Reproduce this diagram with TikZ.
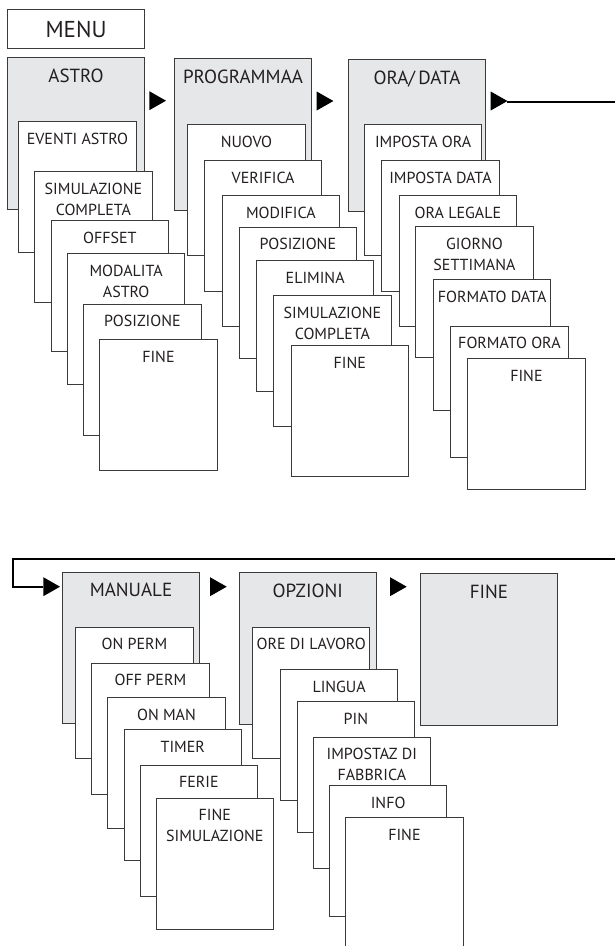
\documentclass[tikz,border=0pt]{standalone}
\usepackage{fontspec}
\setmainfont{PT Sans}
\definecolor{gfill}{HTML}{E6E7E8}
\definecolor{ink}{HTML}{231F20}
\definecolor{edge}{HTML}{3A3A3A}
\tikzset{
  box/.style={draw=edge, line width=1pt, fill=white, inner sep=0pt, anchor=north west, minimum width=117.3pt, minimum height=131pt},
  gbox/.style={draw=edge, line width=1pt, fill=gfill, inner sep=0pt, anchor=north west, minimum width=137pt, minimum height=151.5pt},
  menubox/.style={draw=edge, line width=1pt, fill=white, inner sep=0pt, anchor=north west, minimum width=137pt, minimum height=39pt},
  lbl/.style={anchor=base, inner sep=0pt, align=center, text=ink, font=\fontsize{16}{21}\selectfont},
  glbl/.style={anchor=base, inner sep=0pt, text=ink, font=\fontsize{19}{23}\selectfont},
  mlbl/.style={anchor=base, inner sep=0pt, text=ink, font=\fontsize{23}{27}\selectfont},
  tri/.style={fill=black},
  conn/.style={draw=black, line width=2pt},
}
% one-line sub box
\newcommand\mysub[4]{%
  \node[box] (#1) at (#2,#3) {};
  \node[lbl] (#1-t) at ([yshift=-23pt]#1.north) {#4};
}
% two-line sub box (base anchor = last line)
\newcommand\mysubb[4]{%
  \node[box] (#1) at (#2,#3) {};
  \node[lbl] (#1-t) at ([yshift=-44pt]#1.north) {#4};
}
\newcommand\mygray[4]{%
  \node[gbox] (#1) at (#2,#3) {};
  \node[glbl] (#1-t) at ([yshift=-25pt]#1.north) {#4};
}
\newcommand\mytri[2]{%
  \fill[tri] (#1,#2) ++(0,-9.5) -- ++(16.7,9.5) -- ++(-16.7,9.5) -- cycle;
}
\begin{document}
\begin{tikzpicture}[x=1pt,y=-1pt]
\clip (0,0) rectangle (615,946);
% MENU
\node[menubox] (menu) at (7,9) {};
\node[mlbl] (menu-t) at ([yshift=-28.3pt]menu.north) {MENU};
% ASTRO column
\mygray{astro}{7}{57.3}{ASTRO}
\mysub{a1}{18.3}{121}{EVENTI ASTRO}
\mysubb{a2}{34.3}{171}{SIMULAZIONE\\COMPLETA}
\mysub{a3}{50.7}{220}{OFFSET}
\mysubb{a4}{67}{253.3}{MODALITA\\ASTRO}
\mysub{a5}{83.3}{303.7}{POSIZIONE}
\mysub{a6}{99.3}{339.3}{FINE}
% PROGRAMMAA column
\mygray{prog}{174}{58}{PROGRAMMAA}
\mysub{p1}{187.3}{124}{NUOVO}
\mysub{p2}{204}{160}{VERIFICA}
\mysub{p3}{221.7}{195}{MODIFICA}
\mysub{p4}{238.7}{226.7}{POSIZIONE}
\mysub{p5}{256}{260}{ELIMINA}
\mysubb{p6}{273.3}{295}{SIMULAZIONE\\COMPLETA}
\mysub{p7}{290.7}{345.3}{FINE}
% ORA/DATA column
\mygray{ora}{348}{59}{ORA/\,DATA}
\mysub{o1}{364}{124}{IMPOSTA ORA}
\mysub{o2}{381.3}{160}{IMPOSTA DATA}
\mysub{o3}{398.7}{195}{ORA LEGALE}
\mysubb{o4}{415.3}{226}{GIORNO\\SETTIMANA}
\mysub{o5}{433}{279.3}{FORMATO DATA}
\mysub{o6}{450.3}{325.7}{FORMATO ORA}
\mysub{o7}{467.3}{358.3}{FINE}
% MANUALE column
\mygray{man}{62}{571.7}{MANUALE}
\mysub{m1}{75.3}{626.7}{ON PERM}
\mysub{m2}{91.3}{662.7}{OFF PERM}
\mysub{m3}{107.3}{697.3}{ON MAN}
\mysub{m4}{123.7}{729}{TIMER}
\mysub{m5}{139.7}{764.7}{FERIE}
\mysubb{m6}{155.7}{797.7}{FINE\\SIMULAZIONE}
% OPZIONI column
\mygray{opz}{238.7}{572.3}{OPZIONI}
\mysub{z1}{252}{626.7}{ORE DI LAVORO}
\mysub{z2}{280}{669.3}{LINGUA}
\mysub{z3}{296.7}{701}{PIN}
\mysubb{z4}{312.7}{736.7}{IMPOSTAZ DI\\FABBRICA}
\mysub{z5}{329}{785}{INFO}
\mysub{z6}{345.3}{817.3}{FINE}
% FINE
\mygray{fine}{420}{573.3}{FINE}
% arrows
\mytri{149.3}{100.7}
\mytri{316.7}{101}
\mytri{490.7}{101}
\mytri{43.3}{586.7}
\mytri{210}{586.7}
\mytri{390}{586.7}
% wrap connector
\coordinate (c1) at (507,101.5);
\coordinate (c2) at (43.3,586.7);
\draw[conn] (c1) -- (630,101.5) -- (630,559.3) -| (13.3,586.7) -- (c2);
\end{tikzpicture}
\end{document}
